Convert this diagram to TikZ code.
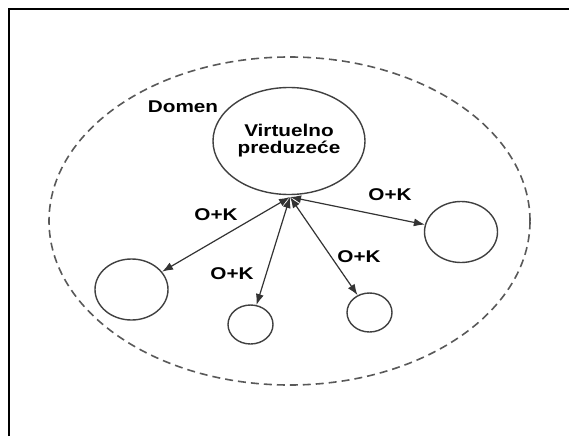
\documentclass[tikz,border=0pt]{standalone}
\usepackage{fontspec}
\setmainfont{Liberation Sans}
\newfontfamily\labelfont[FakeStretch=1.22]{Liberation Sans}
\usetikzlibrary{arrows, arrows.meta}
\usetikzlibrary{shapes.geometric}

\begin{document}
\begin{tikzpicture}[x=1pt, y=-1pt,
    every node/.style={font=\labelfont\fontsize{17}{19}\selectfont\bfseries},
    unit/.style={ellipse, draw=black!75, line width=1.4pt, inner sep=0pt},
    link/.style={{Latex[length=11pt, width=8pt]}-{Latex[length=11pt, width=8pt]}, draw=black!80, line width=1.2pt}]
      \useasboundingbox (0,0) rectangle (569,436);
      \draw[line width=1.5pt] (9,436) -- (9,9) -- (569,9);

      \node[ellipse, draw=black!65, dashed, dash pattern=on 8pt off 5pt, line width=1.6pt, inner sep=0pt,
            minimum width=481, minimum height=328] (domen) at (289.5,221) {};
      \node (lbl) at (183,107) {Domen};

      \node[unit, minimum width=152, minimum height=107, align=center] (vp) at (289,141) {Virtuelno\\[-2pt]preduze\'ce};
      \node[unit, minimum width=73, minimum height=61] (1) at (131.5,289.5) {};
      \node[unit, minimum width=45, minimum height=39] (2) at (250.5,324.5) {};
      \node[unit, minimum width=45, minimum height=39] (3) at (369.5,312.5) {};
      \node[unit, minimum width=73, minimum height=61] (4) at (461,232) {};

      \coordinate (hub) at (290,197);

      \draw[link] (hub) -- (1);
      \draw[link] (hub) -- (2);
      \draw[link] (hub) -- (3);
      \draw[link] (hub) -- (4);

      \node (ok1) at (216,215) {O+K};
      \node (ok2) at (232,274) {O+K};
      \node (ok3) at (359,257) {O+K};
      \node (ok4) at (390,195) {O+K};
    \end{tikzpicture}
\end{document}
